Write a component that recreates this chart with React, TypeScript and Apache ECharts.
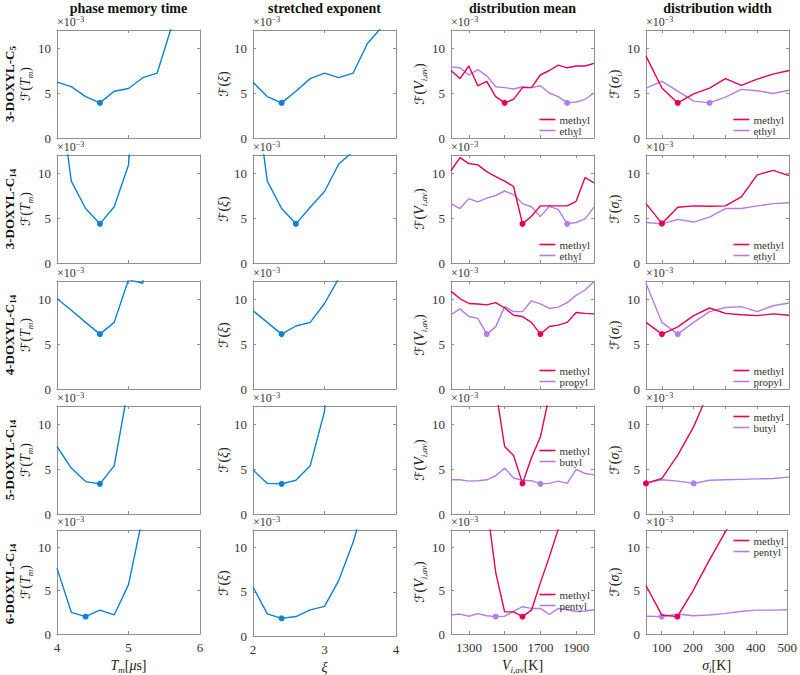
import React, { useEffect, useRef } from 'react';
import * as echarts from 'echarts';

// ---------- x grids ----------
const TM_X = [4.0, 4.2, 4.4, 4.6, 4.8, 5.0, 5.2, 5.4, 5.6, 5.8];
const XI_X = [2.0, 2.2, 2.4, 2.6, 2.8, 3.0, 3.2, 3.4, 3.6, 3.8];
const V_X = [1200, 1250, 1300, 1350, 1400, 1450, 1500, 1550, 1600, 1650, 1700, 1750, 1800, 1850, 1900, 1950, 2000];
const S_X = [50, 100, 150, 200, 250, 300, 350, 400, 450, 500];

// ---------- tick values ----------
const TM_TICKS = [4, 5, 6];
const XI_TICKS = [2, 3, 4];
const V_TICKS = [1300, 1500, 1700, 1900];
const S_TICKS = [100, 200, 300, 400, 500];
const Y_TICKS = [0, 5, 10];

// ---------- titles ----------
const COL_TITLES = ['phase memory time', 'stretched exponent', 'distribution mean', 'distribution width'];
const ROW_LABELS = ['{b|3-DOXYL-C}{s|5}', '{b|3-DOXYL-C}{s|14}', '{b|4-DOXYL-C}{s|14}', '{b|5-DOXYL-C}{s|14}', '{b|6-DOXYL-C}{s|14}'];
const SECOND_NAMES = ['ethyl', 'ethyl', 'propyl', 'butyl', 'pentyl'];

// ---------- values (x10^-3) ----------
const TM_R1 = [6.2, 5.7, 4.6, 3.9, 5.2, 5.5, 6.7, 7.2, 12.3, 18];
const TM_R2 = [21, 9.1, 6.05, 4.35, 6.25, 10.9, 33];
const TM_R3 = [10.05, 8.75, 7.4, 6.1, 7.4, 12.15, 11.75, 30];
const TM_R4 = [7.5, 5.1, 3.6, 3.35, 5.35, 14.2];
const TM_R5 = [7.6, 2.5, 2.0, 2.75, 2.2, 5.7, 13.6];

const XI_R1 = [6.2, 4.6, 3.9, 5.2, 6.6, 7.2, 6.7, 7.2, 10.5, 12.3];
const XI_R2 = [21, 9.1, 6.05, 4.35, 6.2, 7.95, 11.0, 12.4];
const XI_R3 = [8.7, 7.4, 6.1, 7.0, 7.4, 9.5, 12.3];
const XI_R4 = [4.9, 3.4, 3.35, 3.75, 5.35, 11.4, 30];
const XI_R5 = [5.55, 2.5, 2.0, 2.2, 2.95, 3.35, 6.3, 10.6, 16.2];

const V_R1_METHYL = [7.5, 6.6, 8.0, 5.8, 6.3, 4.6, 3.9, 4.3, 5.6, 5.6, 7.0, 7.5, 8.1, 7.8, 8.0, 8.0, 8.3];
const V_R1_ETHYL = [7.9, 7.8, 7.0, 7.6, 6.9, 5.7, 5.6, 5.45, 5.7, 5.6, 5.8, 5.0, 4.6, 3.9, 4.0, 4.3, 5.0];
const V_R2_METHYL = [10.25, 11.7, 11.05, 10.9, 10.15, 9.6, 9.1, 8.5, 4.35, 5.2, 6.35, 6.35, 6.35, 6.35, 6.85, 9.5, 8.9];
const V_R2_ETHYL = [6.6, 6.05, 7.15, 6.8, 7.2, 7.5, 8.0, 7.6, 6.6, 6.25, 5.15, 6.3, 5.95, 4.35, 4.5, 4.9, 6.2];
const V_R3_METHYL = [10.85, 10.05, 9.5, 9.45, 9.35, 9.6, 9.0, 8.2, 8.05, 7.4, 6.1, 6.95, 7.1, 7.4, 8.5, 8.4, 8.35];
const V_R3_PROPYL = [8.25, 8.9, 8.05, 7.85, 6.1, 6.9, 9.15, 8.6, 8.6, 9.8, 9.45, 8.95, 9.1, 9.6, 10.4, 11.0, 11.95];
const V_R4_METHYL = [null, null, null, null, null, 13.9, 7.5, 6.5, 3.4, 6.25, 8.55, 13.2];
const V_R4_BUTYL = [3.8, 3.8, 3.65, 3.7, 3.8, 4.25, 5.1, 4.0, 3.75, 3.7, 3.35, 3.4, 3.65, 3.4, 4.95, 4.5, 4.35];
const V_R5_METHYL = [null, null, null, null, 15.0, 7.1, 2.55, 2.55, 2.0, 2.75, 5.9, 8.9, 12.1, 15.2];
const V_R5_PENTYL = [2.2, 2.3, 2.05, 2.35, 2.1, 2.0, 2.05, 2.6, 3.15, 2.95, 2.95, 2.25, 2.95, 2.8, 2.6, 2.65, 2.8];

const S_R1_METHYL = [9.1, 5.55, 3.9, 4.9, 5.55, 6.6, 5.85, 6.55, 7.1, 7.5];
const S_R1_ETHYL = [5.55, 6.3, 5.2, 4.1, 3.9, 4.55, 5.4, 5.25, 4.95, 5.3];
const S_R2_METHYL = [6.6, 4.4, 6.2, 6.35, 6.3, 6.35, 7.35, 9.8, 10.3, 9.7];
const S_R2_ETHYL = [4.5, 4.35, 4.85, 4.55, 5.1, 6.05, 6.05, 6.35, 6.6, 6.7];
const S_R3_METHYL = [7.4, 6.1, 6.9, 8.15, 9.0, 8.4, 8.25, 8.15, 8.35, 8.2];
const S_R3_PROPYL = [11.75, 7.4, 6.1, 7.4, 8.6, 9.05, 9.15, 8.6, 9.25, 9.55];
const S_R4_METHYL = [3.4, 3.95, 6.55, 9.7, 13.8];
const S_R4_BUTYL = [3.45, 3.8, 3.65, 3.4, 3.75, 3.8, 3.85, 3.9, 3.95, 4.1];
const S_R5_METHYL = [5.6, 2.2, 2.0, 5.0, 8.4, 11.6, 14.8];
const S_R5_PENTYL = [2.05, 2.0, 2.3, 2.1, 2.2, 2.35, 2.6, 2.75, 2.75, 2.8];

const TM_ROWS = [TM_R1, TM_R2, TM_R3, TM_R4, TM_R5];
const XI_ROWS = [XI_R1, XI_R2, XI_R3, XI_R4, XI_R5];
const V_ROWS = [
  [V_R1_METHYL, V_R1_ETHYL],
  [V_R2_METHYL, V_R2_ETHYL],
  [V_R3_METHYL, V_R3_PROPYL],
  [V_R4_METHYL, V_R4_BUTYL],
  [V_R5_METHYL, V_R5_PENTYL],
];
const S_ROWS = [
  [S_R1_METHYL, S_R1_ETHYL],
  [S_R2_METHYL, S_R2_ETHYL],
  [S_R3_METHYL, S_R3_PROPYL],
  [S_R4_METHYL, S_R4_BUTYL],
  [S_R5_METHYL, S_R5_PENTYL],
];

// ---------- layout / style ----------
const COL_LEFT = [57, 253, 451, 646];
const ROW_TOP = [30, 155, 281, 406, 530];
const PW = 143;
const PH = 108;
const BLUE = '#0b82cf';
const RED = '#e6004f';
const PURPLE = '#b37ee8';
const FRAME = '#8f8f8f';
const FONT = '"Liberation Serif", "DejaVu Serif", serif';

const Y_NAMES = [
  '{f|ℱ}{p|(}{i|T}{s|m}{p|)}',
  '{f|ℱ}{p|(}{i|ξ}{p|)}',
  '{f|ℱ}{p|(}{i|V}{s|i,av}{p|)}',
  '{f|ℱ}{p|(}{i|σ}{s|i}{p|)}',
];
const X_NAMES = [
  '{i|T}{s|m}{p|[}{i|μ}{p|s]}',
  '{i|ξ}',
  '{i|V}{s|i,av}{p|[K]}',
  '{i|σ}{s|i}{p|[K]}',
];
const Y_NAME_GAP = [20, 16, 18, 16];
const COL_XCFG = [
  { xs: TM_X, min: 4, max: 6, ticks: TM_TICKS },
  { xs: XI_X, min: 2, max: 4, ticks: XI_TICKS },
  { xs: V_X, min: 1200, max: 2000, ticks: V_TICKS },
  { xs: S_X, min: 50, max: 500, ticks: S_TICKS },
];

const nameRich = {
  f: { fontFamily: '"DejaVu Serif", "DejaVu Sans", serif', fontSize: 13, lineHeight: 18, color: '#222' },
  p: { fontFamily: FONT, fontSize: 14, lineHeight: 18, color: '#222' },
  i: { fontFamily: FONT, fontSize: 14, fontStyle: 'italic', lineHeight: 18, color: '#222' },
  s: { fontFamily: FONT, fontSize: 9, fontStyle: 'italic', lineHeight: 10, verticalAlign: 'bottom', color: '#222' },
};

function buildData(xs: number[], vals: (number | null)[]) {
  let minI = -1;
  let minV = Infinity;
  vals.forEach((v, i) => {
    if (v != null && v < minV) {
      minV = v;
      minI = i;
    }
  });
  const out: any[] = [];
  vals.forEach((v, i) => {
    if (v == null) return;
    if (i === minI) out.push({ value: [xs[i], v], symbol: 'circle', symbolSize: 6 });
    else out.push({ value: [xs[i], v], symbol: 'none' });
  });
  return out;
}

function buildOption() {
  const grid: any[] = [];
  const xAxis: any[] = [];
  const yAxis: any[] = [];
  const series: any[] = [];
  const legend: any[] = [];
  const graphic: any[] = [];

  COL_TITLES.forEach((t, c) => {
    graphic.push({
      type: 'text',
      x: COL_LEFT[c] + PW / 2,
      y: 8,
      style: {
        text: t,
        font: `bold 14px ${FONT}`,
        fill: '#111',
        align: 'center',
        verticalAlign: 'middle',
        textAlign: 'center',
        textVerticalAlign: 'middle',
      },
    });
  });

  ROW_LABELS.forEach((t, r) => {
    graphic.push({
      type: 'text',
      x: 9,
      y: ROW_TOP[r] + PH / 2,
      rotation: Math.PI / 2,
      style: {
        text: t,
        rich: {
          b: { fontFamily: FONT, fontWeight: 'bold', fontSize: 13, lineHeight: 16, fill: '#111' },
          s: { fontFamily: FONT, fontWeight: 'bold', fontSize: 9, lineHeight: 10, verticalAlign: 'bottom', fill: '#111' },
        },
        align: 'center',
        verticalAlign: 'middle',
        textAlign: 'center',
        textVerticalAlign: 'middle',
      },
    });
  });

  for (let r = 0; r < 5; r++) {
    for (let c = 0; c < 4; c++) {
      const g = r * 4 + c;
      const cfg = COL_XCFG[c];
      const bottom = r === 4;
      grid.push({ left: COL_LEFT[c], top: ROW_TOP[r], width: PW, height: PH, containLabel: false });

      graphic.push({
        type: 'text',
        x: COL_LEFT[c],
        y: ROW_TOP[r] - 8,
        style: {
          text: '{a|×10}{e|−3}',
          rich: {
            a: { fontFamily: FONT, fontSize: 12, lineHeight: 14, fill: '#333' },
            e: { fontFamily: FONT, fontSize: 8, lineHeight: 9, verticalAlign: 'top', fill: '#333' },
          },
          align: 'left',
          verticalAlign: 'middle',
          textAlign: 'left',
          textVerticalAlign: 'middle',
        },
      });

      const lineStyle = { color: FRAME, width: 1 };
      const baseX = {
        type: 'value',
        gridIndex: g,
        min: cfg.min,
        max: cfg.max,
        splitLine: { show: false },
        axisLine: { show: true, onZero: false, lineStyle },
        axisTick: { show: true, inside: true, length: 3, customValues: cfg.ticks, lineStyle },
      };
      xAxis.push({
        ...baseX,
        position: 'bottom',
        axisLabel: {
          show: bottom,
          customValues: cfg.ticks,
          formatter: (v: number) => String(v),
          fontFamily: FONT,
          fontSize: 13,
          color: '#333',
          margin: 7,
        },
        name: bottom ? X_NAMES[c] : '',
        nameLocation: 'middle',
        nameGap: 22,
        nameTextStyle: { rich: nameRich },
      });
      xAxis.push({ ...baseX, position: 'top', axisLabel: { show: false } });

      const baseY = {
        type: 'value',
        gridIndex: g,
        min: 0,
        max: 12,
        splitLine: { show: false },
        axisLine: { show: true, onZero: false, lineStyle },
        axisTick: { show: true, inside: true, length: 3, customValues: Y_TICKS, lineStyle },
      };
      yAxis.push({
        ...baseY,
        position: 'left',
        axisLabel: {
          show: true,
          customValues: Y_TICKS,
          formatter: (v: number) => String(v),
          fontFamily: FONT,
          fontSize: 13,
          color: '#333',
          margin: 6,
        },
        name: Y_NAMES[c],
        nameLocation: 'middle',
        nameRotate: 90,
        nameGap: Y_NAME_GAP[c],
        nameTextStyle: { rich: nameRich },
      });
      yAxis.push({ ...baseY, position: 'right', axisLabel: { show: false } });

      const seriesDefs: { name: string; vals: (number | null)[]; color: string }[] = [];
      if (c === 0) seriesDefs.push({ name: 'F', vals: TM_ROWS[r], color: BLUE });
      else if (c === 1) seriesDefs.push({ name: 'F', vals: XI_ROWS[r], color: BLUE });
      else {
        const rows = c === 2 ? V_ROWS : S_ROWS;
        seriesDefs.push({ name: 'methyl', vals: rows[r][0], color: RED });
        seriesDefs.push({ name: SECOND_NAMES[r], vals: rows[r][1], color: PURPLE });
      }
      [...seriesDefs].reverse().forEach((sd) => {
        series.push({
          type: 'line',
          name: sd.name,
          xAxisIndex: g * 2,
          yAxisIndex: g * 2,
          data: buildData(cfg.xs, sd.vals),
          symbol: 'none',
          showSymbol: true,
          clip: true,
          color: sd.color,
          itemStyle: { color: sd.color },
          lineStyle: { color: sd.color, width: 1.4 },
          silent: true,
          z: sd.name === 'methyl' ? 3 : 2,
        });
      });

      if (c >= 2) {
        let top = ROW_TOP[r] + 84;
        if (r === 3) top = c === 2 ? ROW_TOP[r] + 39 : ROW_TOP[r] + 5;
        if (r === 4) top = c === 2 ? ROW_TOP[r] + 59 : ROW_TOP[r] + 5;
        const right = c === 2 ? 210 : 16;
        legend.push({
          show: true,
          orient: 'vertical',
          right,
          top,
          padding: 0,
          itemGap: 0,
          itemWidth: 16,
          itemHeight: 1.6,
          icon: 'rect',
          selectedMode: false,
          data: ['methyl', SECOND_NAMES[r]].map((n) => ({ name: n, icon: 'rect' })),
          textStyle: { fontFamily: FONT, fontSize: 11, lineHeight: 10, color: '#333', padding: [0, 0, 0, -1] },
        });
      }
    }
  }

  return {
    animation: false,
    backgroundColor: '#ffffff',
    grid,
    xAxis,
    yAxis,
    series,
    legend,
    graphic,
  };
}

export default function App() {
  const ref = useRef<HTMLDivElement>(null);
  useEffect(() => {
    if (!ref.current) return;
    const chart = echarts.init(ref.current, undefined, { renderer: 'svg' });
    chart.setOption(buildOption() as any);
    return () => chart.dispose();
  }, []);
  return (
    <div
      ref={ref}
      style={{ position: 'fixed', left: 0, top: 0, width: 800, height: 675, background: '#fff' }}
    />
  );
}
